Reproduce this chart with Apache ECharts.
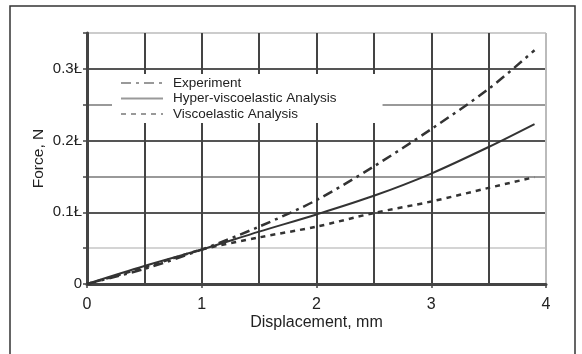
<!DOCTYPE html>
<html>
<head>
<meta charset="utf-8">
<script src="https://cdn.jsdelivr.net/npm/echarts@6/dist/echarts.min.js"></script>
<style>
  html, body { margin: 0; padding: 0; background: #fff; }
  #chart { width: 582px; height: 354px; }
</style>
</head>
<body>
<div id="chart"></div>
<script>
// displacement, mm
const displacement = [0, 0.5, 1, 1.5, 2, 2.5, 3, 3.5, 3.9];
// force, N
const experiment = [0, 0.021, 0.048, 0.080, 0.117, 0.164, 0.216, 0.272, 0.326];
const hyperVisco = [0, 0.025, 0.048, 0.073, 0.097, 0.123, 0.154, 0.191, 0.223];
const viscoelastic = [0, 0.023, 0.048, 0.065, 0.080, 0.099, 0.115, 0.134, 0.149];

const seriesNames = ['Experiment', 'Hyper-viscoelastic Analysis', 'Viscoelastic Analysis'];
const yLabels = { '0': '0', '0.1': '0.1Ł', '0.2': '0.2Ł', '0.3': '0.3Ł' };

const font = '"Liberation Sans", Arial, sans-serif';
const pairs = ys => displacement.map((x, i) => [x, ys[i]]);

const chart = echarts.init(document.getElementById('chart'));

chart.setOption({
  animation: false,
  backgroundColor: '#fff',
  textStyle: { fontFamily: font, color: '#222' },
  grid: { left: 87, right: 36, top: 33, bottom: 70 },
  graphic: [{
    type: 'rect',
    shape: { x: 10, y: 6, width: 565, height: 360 },
    style: { fill: 'none', stroke: '#333', lineWidth: 1.5 },
    silent: true
  }],
  legend: {
    orient: 'vertical',
    left: 112,
    top: 74,
    padding: [2, 46, 2, 8],
    backgroundColor: '#fff',
    itemWidth: 42,
    itemHeight: 8,
    itemGap: 1.5,
    itemStyle: { opacity: 0 },
    lineStyle: { color: '#999' },
    textStyle: { fontFamily: font, fontSize: 13.5, lineHeight: 14, color: '#222', padding: [0, 0, 0, 5] },
    data: seriesNames
  },
  xAxis: {
    type: 'value',
    min: 0,
    max: 4,
    interval: 1,
    name: 'Displacement, mm',
    nameLocation: 'middle',
    nameGap: 31,
    nameMoveOverlap: false,
    nameTextStyle: { fontFamily: font, fontSize: 16, color: '#222' },
    axisLine: { lineStyle: { color: '#444', width: 3 } },
    axisTick: { show: true, length: 4, lineStyle: { color: '#444', width: 1.5 } },
    axisLabel: { fontFamily: font, fontSize: 16, color: '#222', margin: 13 },
    splitLine: { show: true, lineStyle: { color: ['#444', '#444', '#444', '#444', '#bbb'], width: 2 } },
    minorTick: { show: false, splitNumber: 2 },
    minorSplitLine: { show: true, lineStyle: { color: '#444', width: 2 } }
  },
  yAxis: {
    type: 'value',
    min: 0,
    max: 0.35,
    interval: 0.05,
    name: 'Force, N',
    nameLocation: 'middle',
    nameGap: 40,
    nameMoveOverlap: false,
    nameTextStyle: { fontFamily: font, fontSize: 15.5, color: '#222' },
    axisLine: { show: true, lineStyle: { color: '#444', width: 3 } },
    axisTick: { show: true, length: 4, lineStyle: { color: '#444', width: 1.5 } },
    axisLabel: {
      fontFamily: font, fontSize: 15, color: '#222', margin: 5,
      formatter: v => yLabels[String(Math.round(v * 100) / 100)] || ''
    },
    splitLine: {
      show: true,
      lineStyle: {
        color: ['#444', '#d4d4d4', '#555', '#999', '#555', '#999', '#555', '#ccc'],
        width: 2
      }
    }
  },
  series: [
    {
      name: seriesNames[0], type: 'line', symbol: 'none', smooth: 0.3,
      itemStyle: { color: '#333' },
      lineStyle: { color: '#333', width: 2.5, type: [10, 5, 3, 5] },
      data: pairs(experiment)
    },
    {
      name: seriesNames[1], type: 'line', symbol: 'none', smooth: 0.3,
      itemStyle: { color: '#333' },
      lineStyle: { color: '#333', width: 2 },
      data: pairs(hyperVisco)
    },
    {
      name: seriesNames[2], type: 'line', symbol: 'none', smooth: 0.3,
      itemStyle: { color: '#333' },
      lineStyle: { color: '#333', width: 2.5, type: [5, 5] },
      data: pairs(viscoelastic)
    }
  ]
});
</script>
</body>
</html>
